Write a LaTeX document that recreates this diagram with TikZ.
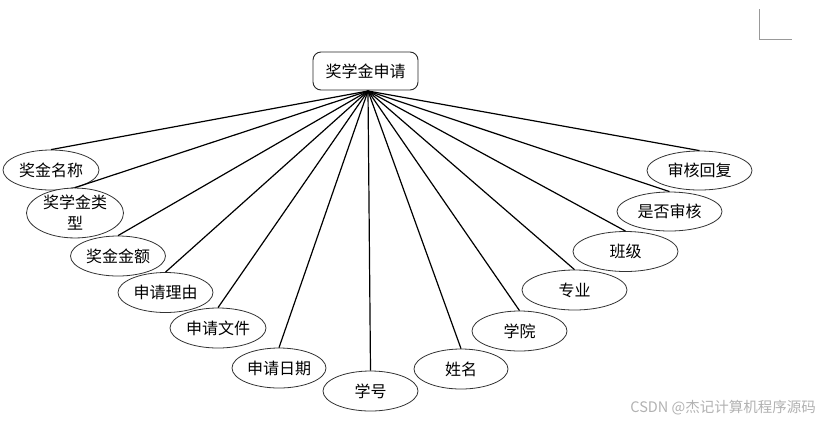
\documentclass[tikz,border=0pt]{standalone}
\usepackage{fontspec}
\newfontfamily\cjk{Noto Sans CJK SC}
\usetikzlibrary{shapes.geometric}
\tikzset{
  attr/.style={ellipse, draw=black!80, line width=0.8pt, fill=white, inner sep=0pt,
    minimum width=96pt, minimum height=40pt, font=\cjk\fontsize{16}{20}\selectfont},
  ent/.style={draw=black!85, line width=0.9pt, rounded corners=8pt, fill=white, inner sep=0pt,
    minimum width=105pt, minimum height=38pt, font=\cjk\fontsize{16}{20}\selectfont},
  link/.style={line width=1.2pt, black},
}
\begin{document}
\begin{tikzpicture}[x=1pt,y=-1pt]
\fill[white] (0,0) rectangle (829,424);
\useasboundingbox (0,0) rectangle (829,424);
\draw[black!40, line width=1pt] (759,9) -- (759,39) -- (792,39);
\node[ent] (main) at (365.5,71) {奖学金申请};
\coordinate (hub) at (368,91);
\node[attr] (a1) at (51,170) {奖金名称};
\node[attr, minimum width=97pt, minimum height=43pt, align=center, font=\cjk\fontsize{16}{21}\selectfont] (a2) at (75,213) {奖学金类\\型};
\node[attr, minimum width=95pt] (a3) at (118,256) {奖金金额};
\node[attr, minimum width=95pt] (a4) at (165.5,292.5) {申请理由};
\node[attr] (a5) at (218,328) {申请文件};
\node[attr, minimum width=94pt] (a6) at (279,368) {申请日期};
\node[attr, minimum width=95pt] (a7) at (370.5,391) {学号};
\node[attr, minimum width=94pt] (a8) at (461,369) {姓名};
\node[attr, minimum width=95pt] (a9) at (519.5,331) {学院};
\node[attr, minimum width=105pt] (a10) at (574.5,290) {专业};
\node[attr, minimum width=105pt] (a11) at (625.5,251.5) {班级};
\node[attr, minimum width=105pt, minimum height=39pt] (a12) at (669.5,211.5) {是否审核};
\node[attr, minimum width=105pt, minimum height=39pt] (a13) at (699.5,170.5) {审核回复};
\foreach \n in {a1,a2,a3,a4,a5,a6,a7,a8,a9,a10,a11,a12,a13}
  \draw[link] (hub) -- (\n.north);
\node[font=\cjk\fontsize{14.5}{16}\selectfont, text=black!30, anchor=east, inner sep=0pt] (wm) at (816,408) {CSDN @杰记计算机程序源码};
\end{tikzpicture}
\end{document}
